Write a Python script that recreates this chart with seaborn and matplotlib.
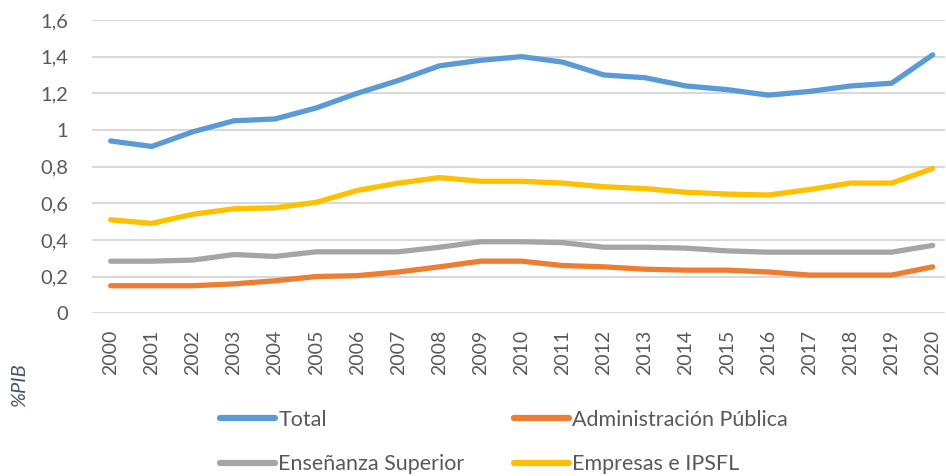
import matplotlib
matplotlib.use("Agg")
import matplotlib.pyplot as plt
import seaborn as sns
import pandas as pd

years = [str(y) for y in range(2000, 2021)]
total = [0.94, 0.91, 0.99, 1.05, 1.06, 1.12, 1.20, 1.27, 1.35, 1.38, 1.40,
         1.37, 1.30, 1.285, 1.24, 1.22, 1.19, 1.21, 1.24, 1.255, 1.41]
admin = [0.15, 0.15, 0.15, 0.16, 0.177, 0.20, 0.205, 0.225, 0.253, 0.284, 0.284,
         0.26, 0.253, 0.24, 0.235, 0.235, 0.225, 0.208, 0.208, 0.208, 0.253]
ensen = [0.284, 0.284, 0.29, 0.32, 0.31, 0.335, 0.335, 0.335, 0.36, 0.39, 0.39,
         0.385, 0.36, 0.36, 0.355, 0.34, 0.333, 0.333, 0.333, 0.333, 0.37]
empre = [0.51, 0.49, 0.54, 0.57, 0.575, 0.605, 0.67, 0.71, 0.74, 0.72, 0.72,
         0.71, 0.69, 0.68, 0.66, 0.65, 0.645, 0.675, 0.71, 0.71, 0.79]
series_names = ["Total", "Administración Pública", "Enseñanza Superior", "Empresas e IPSFL"]
yticks = [0, 0.2, 0.4, 0.6, 0.8, 1, 1.2, 1.4, 1.6]
ytick_labels = ["0", "0,2", "0,4", "0,6", "0,8", "1", "1,2", "1,4", "1,6"]
colors = ["#5B9BD5", "#ED7D31", "#A5A5A5", "#FFC000"]

rows = []
for name, vals in zip(series_names, [total, admin, ensen, empre]):
    for i, (yr, v) in enumerate(zip(years, vals)):
        rows.append({"idx": i, "year": yr, "serie": name, "valor": v})
df = pd.DataFrame(rows)

sns.set_theme(style="white")
plt.rcParams["font.family"] = ["Lato", "DejaVu Sans"]

fig = plt.figure(figsize=(9.46, 4.76), dpi=100)
ax = fig.add_axes([0.097, 0.342, 0.902, 0.616])
sns.lineplot(data=df, x="idx", y="valor", hue="serie", hue_order=series_names,
             palette=colors, linewidth=3.8, ax=ax, legend=True)
handles, labels = ax.get_legend_handles_labels()
ax.get_legend().remove()
for ln in ax.get_lines():
    ln.set_solid_capstyle("round")
    ln.set_solid_joinstyle("round")

ax.set_xlim(-0.46, 20.3)
ax.set_ylim(0, 1.6)
ax.set_yticks(yticks)
ax.set_yticklabels(ytick_labels, fontsize=14.5, color="#595959")
ax.set_xticks(range(len(years)))
ax.set_xticklabels(years, rotation=90, fontsize=14, color="#595959")
ax.tick_params(axis="both", length=0)
ax.tick_params(axis="x", pad=12)
ax.tick_params(axis="y", pad=17)
ax.grid(axis="y", color="#D9D9D9", linewidth=1.5)
ax.set_axisbelow(True)
for s in ax.spines.values():
    s.set_visible(False)
ax.set_xlabel("")
ax.set_ylabel("")

fig.text(0.021, 0.19, "%PIB", rotation=90, fontsize=14.5, style="italic",
         color="#44546A", ha="center", va="center")

order = [0, 2, 1, 3]
for h in handles:
    h.set_linewidth(4.5)
leg = fig.legend([handles[i] for i in order], [labels[i] for i in order],
                 ncol=2, loc="upper left", bbox_to_anchor=(0.2326, 0.139),
                 frameon=False, fontsize=15.5, handlelength=2.56,
                 handletextpad=0.14, columnspacing=2.3, labelspacing=1.13,
                 borderaxespad=0, borderpad=0)
for t in leg.get_texts():
    t.set_color("#595959")

fig.savefig("out.png", dpi=100, facecolor="white")
